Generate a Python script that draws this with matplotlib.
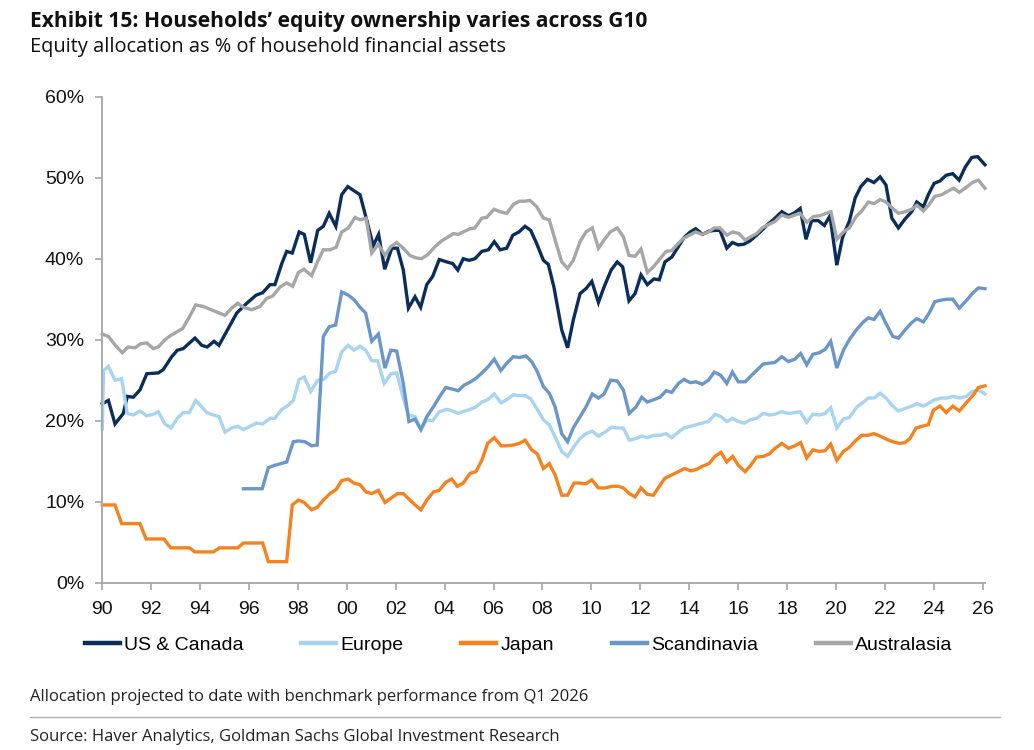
import matplotlib
matplotlib.use("Agg")
import matplotlib.pyplot as plt
from matplotlib.lines import Line2D
from matplotlib.ticker import FuncFormatter

# ---------------- data (year, % of household financial assets) ----------------
series_names = ["US & Canada", "Europe", "Japan", "Scandinavia", "Australasia"]
series_colors = ["#0b2d5a", "#a8d3f1", "#f5821f", "#6b96c8", "#a6a6a6"]

us_year = [1990.00, 1990.25, 1990.52, 1990.86, 1991.02, 1991.27, 1991.54, 1991.82, 1992.29, 1992.49,
           1992.84, 1993.07, 1993.31, 1993.79, 1994.07, 1994.29, 1994.57, 1994.77, 1995.50, 1995.91,
           1996.29, 1996.56, 1996.86, 1997.06, 1997.34, 1997.54, 1997.77, 1998.05, 1998.26, 1998.52,
           1998.81, 1999.04, 1999.28, 1999.55, 1999.79, 2000.04, 2000.29, 2000.54, 2000.81, 2001.08,
           2001.30, 2001.55, 2001.84, 2002.07, 2002.31, 2002.52, 2002.79, 2003.02, 2003.27, 2003.51,
           2003.78, 2004.09, 2004.33, 2004.54, 2004.76, 2005.00, 2005.24, 2005.52, 2005.79, 2006.03,
           2006.27, 2006.54, 2006.79, 2007.04, 2007.29, 2007.52, 2007.76, 2008.04, 2008.24, 2008.47,
           2008.79, 2009.03, 2009.26, 2009.54, 2009.78, 2010.02, 2010.29, 2010.52, 2010.81, 2011.06,
           2011.28, 2011.54, 2011.79, 2012.03, 2012.29, 2012.56, 2012.78, 2013.01, 2013.29, 2013.56,
           2013.79, 2014.04, 2014.27, 2014.54, 2014.81, 2015.06, 2015.26, 2015.54, 2015.77, 2016.01,
           2016.25, 2016.49, 2016.76, 2017.04, 2017.24, 2017.44, 2017.79, 2018.06, 2018.33, 2018.54,
           2018.78, 2019.01, 2019.28, 2019.53, 2019.76, 2020.04, 2020.28, 2020.55, 2020.79, 2021.02,
           2021.29, 2021.56, 2021.81, 2022.05, 2022.29, 2022.56, 2022.83, 2023.10, 2023.31, 2023.58,
           2023.78, 2024.02, 2024.26, 2024.51, 2024.78, 2025.04, 2025.29, 2025.56, 2025.80, 2026.10]
us_val = [22.1, 22.5, 19.6, 20.9, 23.0, 22.9, 23.8, 25.8, 25.9, 26.3,
          27.9, 28.7, 28.9, 30.2, 29.3, 29.1, 29.8, 29.3, 33.3, 34.5,
          35.5, 35.8, 36.8, 36.8, 39.4, 40.9, 40.7, 43.3, 43.0, 39.5,
          43.5, 44.0, 45.6, 44.0, 47.9, 48.9, 48.4, 47.9, 44.8, 41.6,
          43.0, 38.7, 41.3, 41.3, 38.6, 33.9, 35.3, 34.0, 36.8, 37.8,
          39.9, 39.6, 39.4, 38.6, 40.0, 39.8, 40.0, 40.9, 41.1, 42.1,
          41.1, 41.3, 42.9, 43.3, 44.0, 43.5, 41.9, 39.8, 39.3, 36.5,
          31.2, 29.0, 32.4, 35.7, 36.3, 37.2, 34.6, 36.5, 38.6, 39.6,
          39.0, 34.8, 35.7, 38.0, 36.8, 37.5, 37.4, 39.6, 40.2, 41.5,
          42.6, 43.3, 43.7, 43.0, 43.4, 43.5, 43.5, 41.3, 42.0, 41.7,
          41.8, 42.2, 42.9, 43.7, 44.3, 44.8, 45.8, 45.3, 45.7, 46.2,
          42.4, 44.7, 44.7, 44.1, 45.3, 39.2, 42.7, 44.6, 47.5, 48.9,
          49.8, 49.4, 50.1, 49.1, 45.0, 43.8, 44.9, 45.8, 47.0, 46.4,
          47.9, 49.3, 49.6, 50.3, 50.5, 49.7, 51.3, 52.5, 52.6, 51.6]

eu_year = [1990.00, 1990.05, 1990.25, 1990.52, 1990.79, 1991.02, 1991.27, 1991.54, 1991.82, 1992.09,
           1992.29, 1992.56, 1992.81, 1993.07, 1993.31, 1993.56, 1993.82, 1994.07, 1994.27, 1994.54,
           1994.77, 1995.02, 1995.29, 1995.54, 1995.77, 1996.04, 1996.31, 1996.56, 1996.86, 1997.06,
           1997.34, 1997.61, 1997.81, 1998.05, 1998.26, 1998.52, 1998.81, 1999.06, 1999.31, 1999.54,
           1999.79, 2000.06, 2000.29, 2000.54, 2000.77, 2001.02, 2001.26, 2001.53, 2001.80, 2002.04,
           2002.31, 2002.52, 2002.79, 2003.03, 2003.27, 2003.51, 2003.78, 2004.09, 2004.33, 2004.56,
           2004.83, 2005.04, 2005.28, 2005.52, 2005.76, 2006.03, 2006.31, 2006.54, 2006.81, 2007.06,
           2007.29, 2007.52, 2007.77, 2008.04, 2008.28, 2008.52, 2008.79, 2009.03, 2009.26, 2009.54,
           2009.78, 2010.04, 2010.29, 2010.56, 2010.84, 2011.06, 2011.31, 2011.55, 2011.83, 2012.06,
           2012.29, 2012.56, 2012.81, 2013.06, 2013.29, 2013.56, 2013.79, 2014.04, 2014.28, 2014.52,
           2014.79, 2015.06, 2015.30, 2015.54, 2015.78, 2016.01, 2016.26, 2016.49, 2016.76, 2017.04,
           2017.28, 2017.51, 2017.79, 2018.06, 2018.33, 2018.54, 2018.81, 2019.06, 2019.33, 2019.56,
           2019.79, 2020.04, 2020.31, 2020.55, 2020.86, 2021.13, 2021.33, 2021.56, 2021.81, 2022.05,
           2022.29, 2022.56, 2022.83, 2023.10, 2023.31, 2023.58, 2023.82, 2024.05, 2024.33, 2024.56,
           2024.78, 2025.05, 2025.33, 2025.58, 2025.83, 2026.10]
eu_val = [19.0, 26.2, 26.7, 25.0, 25.2, 20.9, 20.7, 21.2, 20.6, 20.8,
          21.1, 19.6, 19.1, 20.3, 21.0, 21.0, 22.5, 21.7, 21.0, 20.7,
          20.5, 18.6, 19.1, 19.3, 18.9, 19.3, 19.7, 19.6, 20.3, 20.3,
          21.4, 21.9, 22.5, 25.1, 25.4, 23.6, 25.0, 25.1, 25.9, 26.1,
          28.5, 29.3, 28.7, 29.2, 28.7, 27.4, 27.4, 24.6, 25.8, 25.9,
          22.8, 20.7, 20.5, 18.9, 20.1, 20.0, 21.1, 21.4, 21.2, 20.9,
          21.2, 21.4, 21.7, 22.3, 22.6, 23.3, 22.2, 22.6, 23.2, 23.1,
          23.1, 22.7, 21.5, 20.1, 19.5, 18.0, 16.2, 15.6, 16.7, 17.8,
          18.4, 18.7, 18.1, 18.6, 19.2, 19.1, 19.1, 17.6, 17.8, 18.1,
          17.9, 18.2, 18.2, 18.4, 17.9, 18.6, 19.1, 19.3, 19.5, 19.7,
          19.9, 20.8, 20.5, 19.9, 20.3, 19.9, 19.7, 20.1, 20.3, 20.9,
          20.7, 20.8, 21.1, 20.9, 21.0, 21.1, 19.8, 20.8, 20.7, 20.9,
          21.6, 19.1, 20.2, 20.4, 21.7, 22.3, 22.8, 22.8, 23.4, 22.8,
          21.9, 21.2, 21.5, 21.8, 22.1, 21.8, 22.2, 22.6, 22.8, 22.8,
          23.0, 22.8, 23.0, 23.6, 23.8, 23.3]

jp_year = [1990.00, 1990.52, 1990.79, 1991.54, 1991.79, 1992.52, 1992.80, 1993.56, 1993.79, 1994.54,
           1994.79, 1995.54, 1995.77, 1996.56, 1996.79, 1997.54, 1997.77, 1998.02, 1998.26, 1998.56,
           1998.79, 1999.04, 1999.31, 1999.56, 1999.79, 2000.06, 2000.29, 2000.54, 2000.79, 2001.02,
           2001.29, 2001.56, 2001.84, 2002.07, 2002.31, 2002.58, 2002.79, 2003.03, 2003.27, 2003.54,
           2003.78, 2004.05, 2004.29, 2004.52, 2004.76, 2005.04, 2005.28, 2005.52, 2005.76, 2006.03,
           2006.31, 2006.54, 2006.81, 2007.06, 2007.29, 2007.56, 2007.79, 2008.04, 2008.28, 2008.52,
           2008.79, 2009.03, 2009.29, 2009.54, 2009.77, 2010.02, 2010.29, 2010.56, 2010.84, 2011.10,
           2011.31, 2011.55, 2011.79, 2012.03, 2012.29, 2012.54, 2012.78, 2013.01, 2013.29, 2013.56,
           2013.81, 2014.07, 2014.31, 2014.56, 2014.81, 2015.06, 2015.30, 2015.54, 2015.78, 2016.01,
           2016.29, 2016.52, 2016.76, 2017.04, 2017.28, 2017.48, 2017.79, 2018.06, 2018.33, 2018.56,
           2018.81, 2019.06, 2019.33, 2019.56, 2019.79, 2020.04, 2020.31, 2020.55, 2020.83, 2021.06,
           2021.33, 2021.56, 2021.81, 2022.08, 2022.33, 2022.60, 2022.83, 2023.03, 2023.28, 2023.51,
           2023.78, 2023.99, 2024.26, 2024.51, 2024.78, 2025.05, 2025.33, 2025.63, 2025.83, 2026.10]
jp_val = [9.6, 9.6, 7.3, 7.3, 5.4, 5.4, 4.3, 4.3, 3.8, 3.8,
          4.3, 4.3, 4.9, 4.9, 2.6, 2.6, 9.6, 10.2, 9.9, 9.0,
          9.3, 10.2, 11.0, 11.5, 12.6, 12.8, 12.3, 12.1, 11.2, 11.0,
          11.4, 9.9, 10.5, 11.0, 11.0, 10.2, 9.6, 9.0, 10.2, 11.2,
          11.4, 12.4, 12.8, 11.9, 12.3, 13.5, 13.7, 15.1, 17.2, 17.9,
          16.9, 16.9, 17.0, 17.2, 17.6, 16.4, 15.9, 14.1, 14.7, 13.3,
          10.8, 10.8, 12.3, 12.3, 12.2, 12.7, 11.7, 11.7, 11.9, 11.9,
          11.7, 11.0, 10.6, 11.7, 10.9, 10.8, 11.9, 12.9, 13.3, 13.7,
          14.1, 13.8, 14.0, 14.4, 14.7, 15.6, 16.1, 14.9, 15.6, 14.5,
          13.7, 14.5, 15.5, 15.6, 15.9, 16.5, 17.2, 16.6, 16.9, 17.3,
          15.4, 16.4, 16.2, 16.3, 17.1, 15.1, 16.2, 16.7, 17.6, 18.2,
          18.2, 18.4, 18.1, 17.7, 17.4, 17.2, 17.3, 17.8, 19.1, 19.3,
          19.5, 21.3, 21.8, 21.0, 21.8, 21.2, 22.2, 23.2, 24.1, 24.3]

sc_year = [1995.77, 1996.54, 1996.79, 1997.06, 1997.30, 1997.54, 1997.81, 1998.02, 1998.29, 1998.56,
           1998.79, 1999.04, 1999.28, 1999.54, 1999.79, 2000.06, 2000.31, 2000.54, 2000.77, 2001.02,
           2001.29, 2001.56, 2001.80, 2002.04, 2002.31, 2002.54, 2002.79, 2003.03, 2003.27, 2003.54,
           2003.78, 2004.05, 2004.32, 2004.56, 2004.80, 2005.07, 2005.31, 2005.56, 2005.79, 2006.03,
           2006.30, 2006.54, 2006.81, 2007.06, 2007.32, 2007.56, 2007.80, 2008.04, 2008.28, 2008.52,
           2008.79, 2009.03, 2009.26, 2009.54, 2009.78, 2010.04, 2010.29, 2010.52, 2010.79, 2011.06,
           2011.31, 2011.55, 2011.83, 2012.06, 2012.29, 2012.56, 2012.81, 2013.06, 2013.29, 2013.56,
           2013.79, 2014.04, 2014.28, 2014.54, 2014.79, 2015.03, 2015.29, 2015.54, 2015.77, 2016.01,
           2016.29, 2016.52, 2016.79, 2017.03, 2017.28, 2017.51, 2017.79, 2018.06, 2018.33, 2018.56,
           2018.81, 2019.06, 2019.33, 2019.56, 2019.79, 2020.04, 2020.31, 2020.55, 2020.86, 2021.13,
           2021.33, 2021.56, 2021.81, 2022.05, 2022.33, 2022.56, 2022.83, 2023.10, 2023.31, 2023.58,
           2023.82, 2024.05, 2024.33, 2024.56, 2024.78, 2025.05, 2025.33, 2025.58, 2025.83, 2026.10]
sc_val = [11.6, 11.6, 14.2, 14.5, 14.7, 14.9, 17.4, 17.5, 17.4, 16.9,
          17.0, 30.4, 31.6, 31.8, 35.9, 35.5, 34.9, 34.0, 33.3, 29.8,
          30.7, 26.5, 28.7, 28.6, 24.6, 19.9, 20.2, 18.9, 20.5, 21.7,
          22.9, 24.1, 23.9, 23.7, 24.4, 24.8, 25.3, 26.0, 26.7, 27.6,
          26.2, 27.1, 27.9, 27.8, 28.0, 27.3, 26.0, 24.2, 23.4, 21.7,
          18.4, 17.4, 19.1, 20.5, 21.7, 23.3, 22.8, 23.3, 25.0, 24.9,
          23.8, 20.9, 21.7, 22.9, 22.3, 22.6, 22.9, 23.7, 23.5, 24.6,
          25.1, 24.7, 24.8, 24.5, 25.0, 26.0, 25.6, 24.6, 26.0, 24.8,
          24.8, 25.5, 26.3, 27.0, 27.1, 27.2, 27.9, 27.3, 27.6, 28.3,
          26.9, 28.2, 28.4, 28.8, 29.8, 26.5, 28.7, 30.0, 31.3, 32.2,
          32.7, 32.5, 33.5, 32.0, 30.4, 30.2, 31.2, 32.1, 32.6, 32.2,
          33.3, 34.7, 34.9, 35.0, 35.0, 33.9, 34.8, 35.7, 36.4, 36.3]

au_year = [1990.00, 1990.25, 1990.59, 1990.82, 1991.06, 1991.34, 1991.57, 1991.82, 1992.09, 1992.29,
           1992.56, 1992.84, 1993.07, 1993.29, 1993.56, 1993.82, 1994.13, 1994.54, 1995.02, 1995.29,
           1995.54, 1995.77, 1996.11, 1996.45, 1996.72, 1996.97, 1997.27, 1997.54, 1997.79, 1998.02,
           1998.25, 1998.56, 1998.83, 1999.04, 1999.31, 1999.56, 1999.79, 2000.06, 2000.34, 2000.54,
           2000.79, 2001.02, 2001.29, 2001.56, 2001.80, 2002.04, 2002.31, 2002.58, 2002.83, 2003.06,
           2003.31, 2003.61, 2003.88, 2004.15, 2004.36, 2004.56, 2004.76, 2005.04, 2005.24, 2005.52,
           2005.72, 2006.02, 2006.27, 2006.54, 2006.81, 2007.06, 2007.29, 2007.49, 2007.77, 2008.04,
           2008.28, 2008.52, 2008.79, 2009.03, 2009.26, 2009.54, 2009.78, 2010.04, 2010.29, 2010.52,
           2010.77, 2011.06, 2011.31, 2011.54, 2011.79, 2012.03, 2012.29, 2012.54, 2012.81, 2013.06,
           2013.29, 2013.53, 2013.76, 2014.01, 2014.27, 2014.52, 2014.79, 2015.03, 2015.26, 2015.54,
           2015.78, 2016.04, 2016.29, 2016.52, 2016.76, 2016.99, 2017.24, 2017.51, 2017.79, 2018.06,
           2018.33, 2018.54, 2018.81, 2019.08, 2019.35, 2019.60, 2019.80, 2020.04, 2020.31, 2020.55,
           2020.83, 2021.06, 2021.33, 2021.56, 2021.81, 2022.05, 2022.29, 2022.56, 2022.83, 2023.10,
           2023.31, 2023.58, 2023.82, 2024.05, 2024.33, 2024.56, 2024.81, 2025.05, 2025.33, 2025.58,
           2025.83, 2026.10]
au_val = [30.7, 30.4, 29.1, 28.4, 29.1, 29.0, 29.5, 29.6, 28.9, 29.1,
          30.0, 30.6, 31.0, 31.4, 32.8, 34.3, 34.1, 33.6, 33.0, 33.9,
          34.5, 34.0, 33.7, 34.1, 35.1, 35.4, 36.5, 37.0, 36.6, 38.3,
          38.7, 37.9, 39.8, 41.1, 41.1, 41.4, 43.3, 43.8, 45.1, 44.8,
          45.0, 40.7, 41.8, 40.4, 41.5, 42.0, 41.3, 40.4, 40.1, 40.0,
          40.5, 41.5, 42.2, 42.7, 43.1, 43.0, 43.3, 43.7, 43.8, 45.0,
          45.1, 46.1, 45.8, 45.6, 46.7, 47.1, 47.1, 47.2, 46.4, 45.0,
          44.8, 42.3, 39.6, 38.8, 39.8, 42.1, 43.3, 43.8, 41.3, 42.3,
          43.3, 43.8, 42.7, 40.4, 40.3, 41.2, 38.3, 39.0, 40.0, 40.9,
          41.0, 41.8, 42.5, 42.9, 43.3, 43.0, 43.3, 43.8, 43.8, 42.9,
          43.3, 43.1, 42.3, 42.7, 43.1, 43.8, 44.2, 44.6, 45.4, 45.1,
          45.4, 45.6, 44.5, 45.2, 45.3, 45.6, 45.8, 42.4, 43.3, 43.8,
          45.2, 45.9, 47.0, 46.8, 47.3, 47.0, 46.3, 45.6, 45.8, 46.1,
          46.6, 45.9, 46.7, 47.7, 47.9, 48.3, 48.7, 48.2, 48.8, 49.4,
          49.7, 48.7]

x_ticks = list(range(1990, 2027, 2))
x_tick_labels = [f"{y % 100:02d}" for y in x_ticks]
y_ticks = [0, 10, 20, 30, 40, 50, 60]

title = "Exhibit 15: Households\u2019 equity ownership varies across G10"
subtitle = "Equity allocation as % of household financial assets"
note = "Allocation projected to date with benchmark performance from Q1 2026"
source = "Source: Haver Analytics, Goldman Sachs Global Investment Research"

# ---------------- figure ----------------
W, H = 1034, 750
fig = plt.figure(figsize=(W / 100, H / 100), dpi=100)
ax = fig.add_axes([102.3 / W, 1 - 582.7 / H, (985 - 102.3) / W, (582.7 - 96.7) / H])

all_series = [(us_year, us_val), (eu_year, eu_val), (jp_year, jp_val),
              (sc_year, sc_val), (au_year, au_val)]
for (xs, ys), name, col in zip(all_series, series_names, series_colors):
    ax.plot(xs, ys, color=col, lw=2.4, solid_joinstyle="miter", label=name, clip_on=False)

ax.set_xlim(1990, 2026.1)
ax.set_ylim(0, 60)
ax.set_xticks(x_ticks)
ax.set_xticklabels(x_tick_labels)
ax.set_yticks(y_ticks)
ax.yaxis.set_major_formatter(FuncFormatter(lambda v, p: f"{v:.0f}%"))

spine_col = "#a6a6a6"
for s in ["top", "right"]:
    ax.spines[s].set_visible(False)
for s in ["left", "bottom"]:
    ax.spines[s].set_color(spine_col)
    ax.spines[s].set_linewidth(1.3)
ax.tick_params(axis="both", direction="out", length=5, width=1.2, color=spine_col,
               labelsize=14, labelcolor="#111111")
ax.tick_params(axis="x", pad=8)
ax.tick_params(axis="y", pad=8)
for lab in ax.get_xticklabels() + ax.get_yticklabels():
    lab.set_fontfamily("Liberation Sans")

handles = [Line2D([0], [0], color=c, lw=3.2) for c in series_colors]
leg = fig.legend(handles, series_names, loc="center", bbox_to_anchor=(518.5 / W, 1 - 645 / H),
                 ncol=5, frameon=False, handlelength=1.8, handletextpad=0.2, columnspacing=2.98,
                 prop={"family": "Liberation Sans", "size": 14})

# titles
fig.text(30 / W, 1 - 22 / H, title, fontsize=15.1, fontweight="bold", family="Open Sans",
         va="center", ha="left", color="#111111")
fig.text(30 / W, 1 - 47 / H, subtitle, fontsize=14.4, family="Open Sans",
         va="center", ha="left", color="#111111")
fig.text(30 / W, 1 - 697 / H, note, fontsize=12, family="Open Sans",
         va="center", ha="left", color="#222222")
fig.add_artist(Line2D([30 / W, 1000 / W], [1 - 717 / H, 1 - 717 / H], color="#b0b0b0", lw=1))
fig.text(30 / W, 1 - 737 / H, source, fontsize=12, family="Open Sans",
         va="center", ha="left", color="#222222")

fig.savefig("out.png", dpi=100)
